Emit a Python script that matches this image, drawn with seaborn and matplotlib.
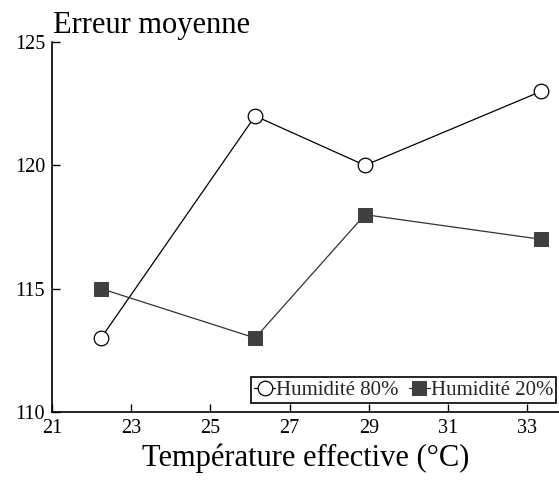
import matplotlib
matplotlib.use("Agg")
import matplotlib.pyplot as plt
import seaborn as sns
import pandas as pd

temps = [22.24, 26.13, 28.9, 33.35]
hum80 = [113, 122, 120, 123]
hum20 = [115, 113, 118, 117]
labels = ["Humidité 80%", "Humidité 20%"]
xticks = [21, 23, 25, 27, 29, 31, 33]
yticks = [110, 115, 120, 125]

sns.set_theme(style="ticks")
plt.rcParams['font.family'] = ['Liberation Serif', 'DejaVu Serif']

fig = plt.figure(figsize=(5.59, 4.80), dpi=100)
ax = fig.add_axes([0.093, 0.1417, 0.907, 0.7708])

df80 = pd.DataFrame({"x": temps, "y": hum80})
df20 = pd.DataFrame({"x": temps, "y": hum20})
sns.lineplot(data=df80, x="x", y="y", ax=ax, color="black", linewidth=0.9,
             marker="o", markersize=10.5, markerfacecolor="white",
             markeredgecolor="black", markeredgewidth=0.9, label=labels[0])
sns.lineplot(data=df20, x="x", y="y", ax=ax, color="#333333", linewidth=0.9,
             marker="s", markersize=10, markerfacecolor="#404040",
             markeredgecolor="#404040", label=labels[1])

ax.set_xlim(21, 33.8)
ax.set_ylim(110, 125)
ax.set_xticks(xticks)
ax.set_yticks(yticks)
ax.tick_params(direction="in", length=6, width=1, labelsize=14.5, colors="black", pad=5)
for s in ["top", "right"]:
    ax.spines[s].set_visible(False)
for s in ["left", "bottom"]:
    ax.spines[s].set_color("black")
    ax.spines[s].set_linewidth(1.2)
ax.set_xlabel("Température effective (°C)", fontsize=22, color="black", labelpad=4)
ax.set_ylabel("")
fig.text(0.095, 1 - 33 / 480, "Erreur moyenne", fontsize=22, color="black",
         va="baseline", ha="left")

leg = ax.legend(loc="lower left", bbox_to_anchor=(0.3925, 0.024), ncol=2, fontsize=15,
                frameon=True, fancybox=False, edgecolor="black", framealpha=1,
                handlelength=1.0, handletextpad=0.05, columnspacing=0.5,
                borderpad=0.15, borderaxespad=0.0, markerscale=1.0)
leg.get_frame().set_linewidth(1.2)

fig.savefig("out.png", dpi=100)
